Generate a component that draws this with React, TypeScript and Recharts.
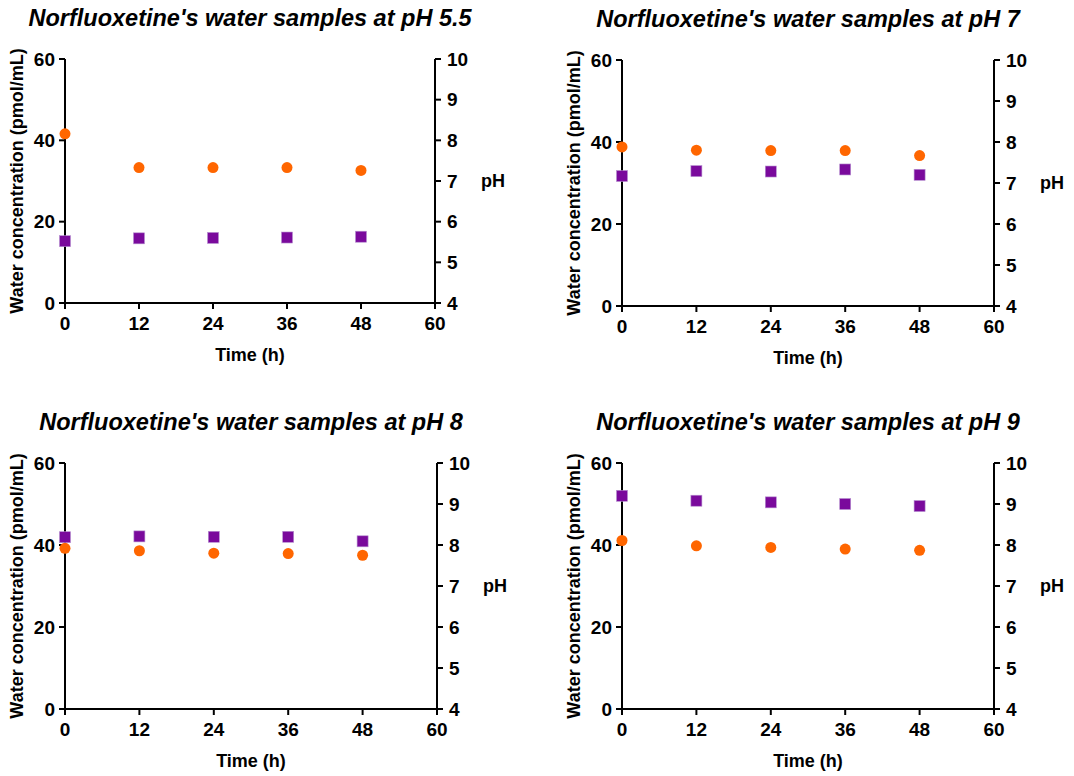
import React from 'react';
import { ScatterChart, Scatter, XAxis, YAxis } from 'recharts';

// sampling times (h)
const timeH = [0, 12, 24, 36, 48];

// water concentration (pmol/mL)
const conc55 = [41.6, 33.3, 33.3, 33.3, 32.6];
const conc7 = [38.8, 38.0, 37.9, 37.9, 36.7];
const conc8 = [39.2, 38.6, 38.0, 37.9, 37.5];
const conc9 = [41.1, 39.8, 39.4, 39.0, 38.7];

// measured pH
const ph55 = [5.52, 5.59, 5.6, 5.61, 5.63];
const ph7 = [7.17, 7.29, 7.28, 7.33, 7.2];
const ph8 = [8.19, 8.21, 8.2, 8.2, 8.09];
const ph9 = [9.2, 9.08, 9.04, 9.0, 8.95];

const panelTitles = ['5.5', '7', '8', '9'];

const xTicks = [0, 12, 24, 36, 48, 60];
const concTicks = [0, 20, 40, 60];
const phTicks = [4, 5, 6, 7, 8, 9, 10];

const ORANGE = '#ff6600';
const PURPLE = '#7a0a9c';
const FONT = '"Liberation Sans", Arial, sans-serif';

const tickStyle = { fill: '#000', fontSize: 19, fontWeight: 700, fontFamily: FONT };
const titleStyle = { fontSize: 18, fontWeight: 700, fontFamily: FONT, fill: '#000' };

const LEFT_W = 65;
const RIGHT_W = 40;
const RIGHT_PAD = 40;
const TOP_PAD = 59;
const X_H = 30;
const BOTTOM_PAD = 50;

const makeRows = (conc: number[], ph: number[]) =>
  timeH.map((t, i) => ({ t, conc: conc[i], ph: ph[i] }));

const YTitle = (props: any) => {
  const vb = props.viewBox;
  const x = vb.x + 17;
  const y = vb.y + vb.height / 2;
  return (
    <text x={x} y={y} transform={`rotate(-90, ${x}, ${y})`} textAnchor="middle" dominantBaseline="central" style={titleStyle}>
      Water concentration (pmol/mL)
    </text>
  );
};

const PhTitle = (props: any) => {
  const vb = props.viewBox;
  return (
    <text x={vb.x + 46} y={vb.y + vb.height / 2} textAnchor="start" dominantBaseline="central" style={titleStyle}>
      pH
    </text>
  );
};

const XTitle = (props: any) => {
  const vb = props.viewBox;
  return (
    <text x={vb.x + vb.width / 2} y={vb.y + 52} textAnchor="middle" dominantBaseline="central" style={titleStyle}>
      Time (h)
    </text>
  );
};

const Dot = (props: any) => <circle cx={props.cx} cy={props.cy} r={5.5} fill={ORANGE} />;
const Square = (props: any) => (
  <rect x={props.cx - 5.5} y={props.cy - 5.5} width={11} height={11} fill={PURPLE} stroke="#b68fd0" strokeWidth={0.6} />
);

interface PanelProps {
  label: string;
  conc: number[];
  ph: number[];
  box: { x: number; y: number; w: number; h: number };
}

const Panel: React.FC<PanelProps> = ({ label, conc, ph, box }) => {
  const rows = makeRows(conc, ph);
  const width = LEFT_W + box.w + RIGHT_W + RIGHT_PAD;
  const height = TOP_PAD + box.h + X_H + BOTTOM_PAD;
  const axisLine = { stroke: '#000', strokeWidth: 2 };
  return (
    <>
      <div
        style={{
          position: 'absolute',
          left: box.x - 60,
          width: box.w + 120,
          top: box.y - 59,
          height: 36,
          lineHeight: '36px',
          textAlign: 'center',
          fontFamily: FONT,
          fontWeight: 700,
          fontStyle: 'italic',
          fontSize: 23.5,
          color: '#000',
        }}
      >
        {`Norfluoxetine's water samples at pH ${label}`}
      </div>
      <div style={{ position: 'absolute', left: box.x - LEFT_W, top: box.y - TOP_PAD }}>
        <ScatterChart width={width} height={height} margin={{ top: TOP_PAD, right: RIGHT_PAD, bottom: BOTTOM_PAD, left: 0 }}>
          <XAxis
            type="number"
            dataKey="t"
            domain={[0, 60]}
            ticks={xTicks}
            height={X_H}
            axisLine={axisLine}
            tickLine={axisLine}
            tickSize={6}
            tickMargin={8}
            tick={tickStyle}
            interval={0}
            label={<XTitle />}
          />
          <YAxis
            yAxisId="conc"
            type="number"
            dataKey="conc"
            domain={[0, 60]}
            ticks={concTicks}
            width={LEFT_W}
            axisLine={axisLine}
            tickLine={axisLine}
            tickSize={6}
            tickMargin={4}
            tick={tickStyle}
            interval={0}
            label={<YTitle />}
          />
          <YAxis
            yAxisId="ph"
            orientation="right"
            type="number"
            dataKey="ph"
            domain={[4, 10]}
            ticks={phTicks}
            width={RIGHT_W}
            axisLine={axisLine}
            tickLine={axisLine}
            tickSize={6}
            tickMargin={6}
            tick={tickStyle}
            interval={0}
            label={<PhTitle />}
          />
          <Scatter yAxisId="conc" data={rows} shape={<Dot />} isAnimationActive={false} />
          <Scatter yAxisId="ph" data={rows} shape={<Square />} isAnimationActive={false} />
        </ScatterChart>
      </div>
    </>
  );
};

export default function App() {
  return (
    <div style={{ position: 'absolute', left: 0, top: 0, width: 1074, height: 776, overflow: 'hidden', background: '#fff' }}>
      <Panel label={panelTitles[0]} conc={conc55} ph={ph55} box={{ x: 65, y: 59, w: 370, h: 244 }} />
      <Panel label={panelTitles[1]} conc={conc7} ph={ph7} box={{ x: 622, y: 60, w: 372, h: 246 }} />
      <Panel label={panelTitles[2]} conc={conc8} ph={ph8} box={{ x: 65, y: 463, w: 372, h: 246 }} />
      <Panel label={panelTitles[3]} conc={conc9} ph={ph9} box={{ x: 622, y: 463, w: 372, h: 246 }} />
    </div>
  );
}
